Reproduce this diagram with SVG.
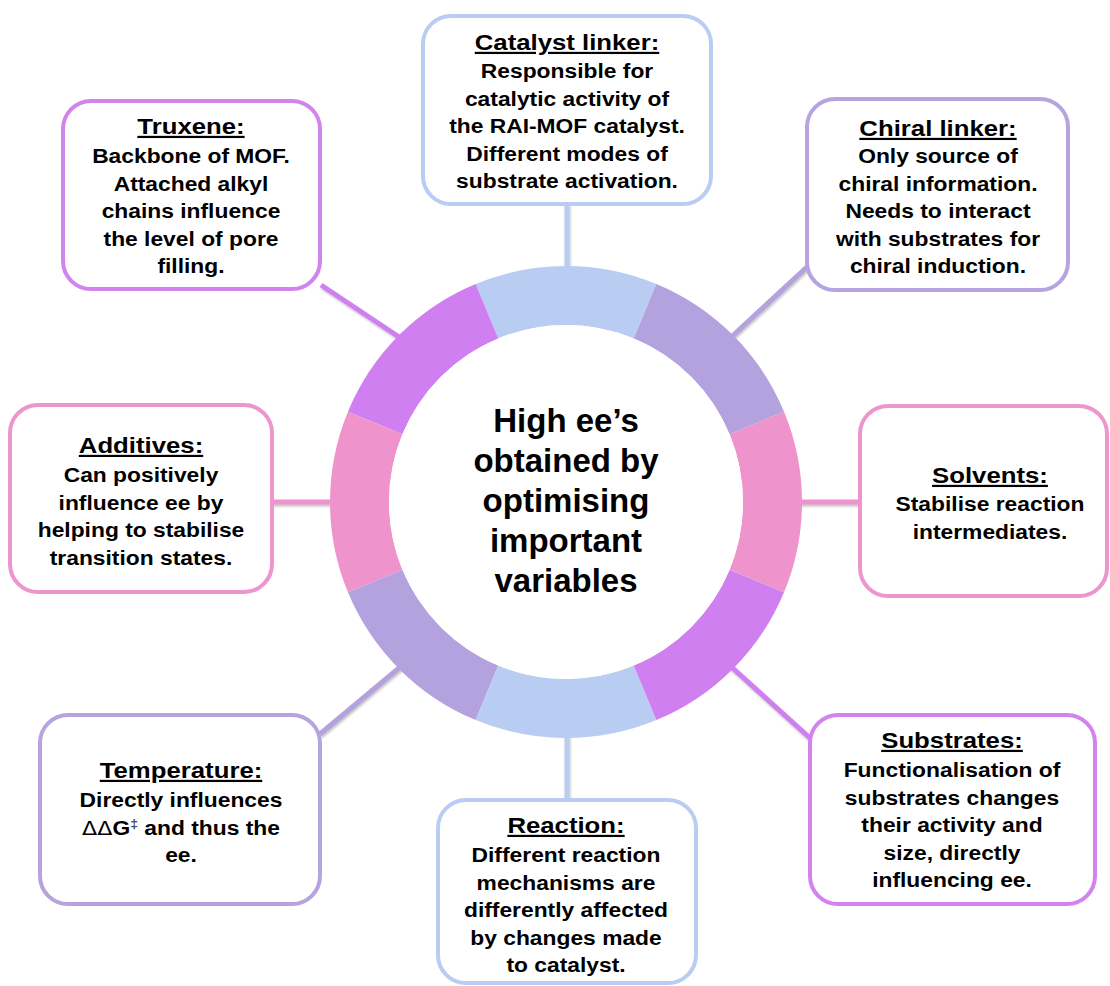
<svg xmlns="http://www.w3.org/2000/svg" width="1110" height="986" viewBox="0 0 1110 986">
  <defs>
    <style>
      .box { fill: #ffffff; stroke-width: 4; }
      .blue { stroke: #b9cdf3; }
      .lav { stroke: #b6a4e0; }
      .pink { stroke: #ec96cd; }
      .vio { stroke: #d283ee; }
      .t { font-family: "Liberation Sans", Arial, sans-serif; font-weight: bold; fill: #000; text-anchor: middle; }
      .title { font-size: 22px; text-decoration: underline; }
      .body { font-size: 19.5px; }
      .hub { font-size: 33px; }
      .conn { fill: none; stroke-width: 5; stroke-linecap: butt; }
    </style>
    <filter id="lineShadow" x="-20%" y="-20%" width="140%" height="140%">
      <feDropShadow dx="1" dy="2" stdDeviation="1" flood-color="#555" flood-opacity="0.35"/>
    </filter>
  </defs>

  <rect width="1110" height="986" fill="#ffffff"/>

  <!-- connectors from the ring out to each box -->
  <g id="connectors" class="conn" filter="url(#lineShadow)">
    <line x1="567" y1="204" x2="567" y2="280" stroke="#b9cdf3"/>
    <line x1="567" y1="725" x2="567" y2="800" stroke="#b9cdf3"/>
    <line x1="321" y1="285" x2="405" y2="341" stroke="#d07ff0"/>
    <line x1="808" y1="266" x2="727" y2="341" stroke="#b4a2de"/>
    <line x1="272" y1="502" x2="340" y2="502" stroke="#ee93cb"/>
    <line x1="792" y1="502" x2="860" y2="502" stroke="#ee93cb"/>
    <line x1="320" y1="734" x2="405" y2="663" stroke="#b4a2de"/>
    <line x1="727" y1="663" x2="811" y2="739" stroke="#d07ff0"/>
  </g>

  <!-- central ring of eight segments -->
  <g id="hub">
    <path fill="#b9cdf3" d="M656.31,283.96 A236,236 0 0 0 475.69,283.96 L498.27,338.47 A177,177 0 0 1 633.73,338.47 Z"/>
    <path fill="#d07ff0" d="M475.69,283.96 A236,236 0 0 0 347.96,411.69 L402.47,434.27 A177,177 0 0 1 498.27,338.47 Z"/>
    <path fill="#ee93cb" d="M347.96,411.69 A236,236 0 0 0 347.96,592.31 L402.47,569.73 A177,177 0 0 1 402.47,434.27 Z"/>
    <path fill="#b4a2de" d="M347.96,592.31 A236,236 0 0 0 475.69,720.04 L498.27,665.53 A177,177 0 0 1 402.47,569.73 Z"/>
    <path fill="#b9cdf3" d="M475.69,720.04 A236,236 0 0 0 656.31,720.04 L633.73,665.53 A177,177 0 0 1 498.27,665.53 Z"/>
    <path fill="#d07ff0" d="M656.31,720.04 A236,236 0 0 0 784.04,592.31 L729.53,569.73 A177,177 0 0 1 633.73,665.53 Z"/>
    <path fill="#ee93cb" d="M784.04,592.31 A236,236 0 0 0 784.04,411.69 L729.53,434.27 A177,177 0 0 1 729.53,569.73 Z"/>
    <path fill="#b4a2de" d="M784.04,411.69 A236,236 0 0 0 656.31,283.96 L633.73,338.47 A177,177 0 0 1 729.53,434.27 Z"/>
    <circle cx="566" cy="502" r="177" fill="#ffffff"/>
    <text class="t hub" x="566" y="432">High ee’s</text>
    <text class="t hub" x="566" y="472">obtained by</text>
    <text class="t hub" x="566" y="512">optimising</text>
    <text class="t hub" x="566" y="552">important</text>
    <text class="t hub" x="566" y="592">variables</text>
  </g>

  <g id="catalyst-linker">
    <rect class="box blue" x="423" y="16" width="288" height="188" rx="28"/>
    <g transform="translate(567 0) scale(1.17 1)">
      <text class="t title" x="0" y="50">Catalyst linker:</text>
      <text class="t body" x="0" y="78">Responsible for</text>
      <text class="t body" x="0" y="105.6">catalytic activity of</text>
      <text class="t body" x="0" y="133.2">the RAI-MOF catalyst.</text>
      <text class="t body" x="0" y="160.8">Different modes of</text>
      <text class="t body" x="0" y="188.4">substrate activation.</text>
    </g>
  </g>

  <g id="truxene">
    <rect class="box vio" x="63" y="101" width="257" height="188" rx="28"/>
    <g transform="translate(191 0) scale(1.17 1)">
      <text class="t title" x="0" y="134">Truxene:</text>
      <text class="t body" x="0" y="163">Backbone of MOF.</text>
      <text class="t body" x="0" y="190.6">Attached alkyl</text>
      <text class="t body" x="0" y="218.2">chains influence</text>
      <text class="t body" x="0" y="245.8">the level of pore</text>
      <text class="t body" x="0" y="273.4">filling.</text>
    </g>
  </g>

  <g id="chiral-linker">
    <rect class="box lav" x="807" y="99" width="261" height="191" rx="28"/>
    <g transform="translate(938 0) scale(1.17 1)">
      <text class="t title" x="0" y="136">Chiral linker:</text>
      <text class="t body" x="0" y="163">Only source of</text>
      <text class="t body" x="0" y="190.6">chiral information.</text>
      <text class="t body" x="0" y="218.2">Needs to interact</text>
      <text class="t body" x="0" y="245.8">with substrates for</text>
      <text class="t body" x="0" y="273.4">chiral induction.</text>
    </g>
  </g>

  <g id="additives">
    <rect class="box pink" x="10" y="405" width="262" height="187" rx="28"/>
    <g transform="translate(141 0) scale(1.17 1)">
      <text class="t title" x="0" y="453">Additives:</text>
      <text class="t body" x="0" y="482">Can positively</text>
      <text class="t body" x="0" y="509.6">influence ee by</text>
      <text class="t body" x="0" y="537.2">helping to stabilise</text>
      <text class="t body" x="0" y="564.8">transition states.</text>
    </g>
  </g>

  <g id="solvents">
    <rect class="box pink" x="860" y="406" width="247" height="190" rx="28"/>
    <g transform="translate(990 0) scale(1.17 1)">
      <text class="t title" x="0" y="483">Solvents:</text>
      <text class="t body" x="0" y="511">Stabilise reaction</text>
      <text class="t body" x="0" y="538.6">intermediates.</text>
    </g>
  </g>

  <g id="temperature">
    <rect class="box lav" x="40" y="715" width="280" height="189" rx="28"/>
    <g transform="translate(181 0) scale(1.17 1)">
      <text class="t title" x="0" y="778">Temperature:</text>
      <text class="t body" x="0" y="807">Directly influences</text>
      <text class="t body" x="0" y="834.6"><tspan font-weight="normal" font-family="DejaVu Sans, sans-serif" font-size="19">ΔΔ</tspan>G<tspan font-size="12" dy="-7" fill="#3b4a5e">‡</tspan><tspan dy="7"> and thus the</tspan></text>
      <text class="t body" x="0" y="862.2">ee.</text>
    </g>
  </g>

  <g id="reaction">
    <rect class="box blue" x="438" y="800" width="258" height="183" rx="28"/>
    <g transform="translate(566 0) scale(1.17 1)">
      <text class="t title" x="0" y="833">Reaction:</text>
      <text class="t body" x="0" y="862">Different reaction</text>
      <text class="t body" x="0" y="889.6">mechanisms are</text>
      <text class="t body" x="0" y="917.2">differently affected</text>
      <text class="t body" x="0" y="944.8">by changes made</text>
      <text class="t body" x="0" y="972.4">to catalyst.</text>
    </g>
  </g>

  <g id="substrates">
    <rect class="box vio" x="810" y="715" width="285" height="189" rx="28"/>
    <g transform="translate(952 0) scale(1.17 1)">
      <text class="t title" x="0" y="748">Substrates:</text>
      <text class="t body" x="0" y="777">Functionalisation of</text>
      <text class="t body" x="0" y="804.6">substrates changes</text>
      <text class="t body" x="0" y="832.2">their activity and</text>
      <text class="t body" x="0" y="859.8">size, directly</text>
      <text class="t body" x="0" y="887.4">influencing ee.</text>
    </g>
  </g>
</svg>
